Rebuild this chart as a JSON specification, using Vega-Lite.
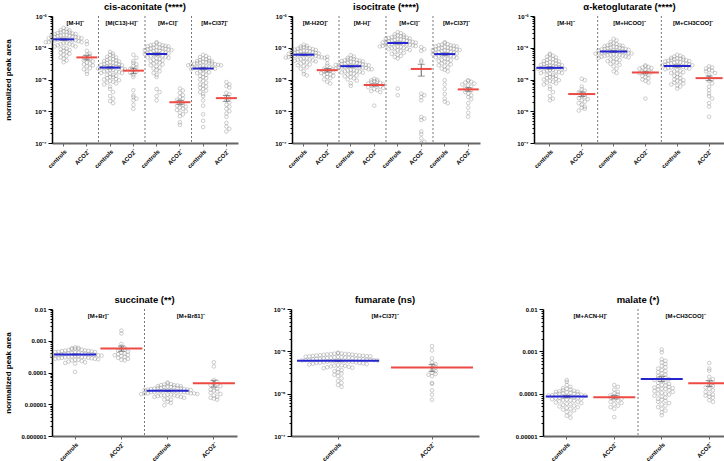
{
"$schema":"https://vega.github.io/schema/vega-lite/v6.json",
"padding":{"left":3,"top":1,"right":0,"bottom":0},
"resolve":{"scale":{"xOffset":"independent","x":"independent","y":"independent"}},
"config":{"font":"Liberation Sans","view":{"stroke":null},
 "title":{"fontSize":9.5,"fontWeight":"bold","offset":2,"color":"#000"},
 "axisY":{"labelFontSize":6,"labelFontWeight":"bold","labelColor":"#000","domainColor":"#000","domainWidth":1.5,"tickColor":"#000","labelPadding":2,"titleFontSize":8,"titleFontWeight":"bold","titleColor":"#000","grid":false},
 "axisX":{"labelAngle":-45,"labelFontSize":6,"labelFontWeight":"bold","labelColor":"#000","domainColor":"#666","domainWidth":2,"tickColor":"#666","tickSize":3,"labelPadding":2,"grid":false}},
"datasets":{
"ad":[
{"p":"cis","k":"1a","ad":"[M-H]⁻"},{"p":"cis","k":"2a","ad":"[M(C13)-H]⁻"},{"p":"cis","k":"3a","ad":"[M+Cl]⁻"},{"p":"cis","k":"4a","ad":"[M+Cl37]⁻"},
{"p":"iso","k":"1a","ad":"[M-H2O]⁻"},{"p":"iso","k":"2a","ad":"[M-H]⁻"},{"p":"iso","k":"3a","ad":"[M+Cl]⁻"},{"p":"iso","k":"4a","ad":"[M+Cl37]⁻"},
{"p":"akg","k":"1a","ad":"[M-H]⁻"},{"p":"akg","k":"2a","ad":"[M+HCOO]⁻"},{"p":"akg","k":"3a","ad":"[M+CH3COO]⁻"},
{"p":"suc","k":"1a","ad":"[M+Br]⁻"},{"p":"suc","k":"2a","ad":"[M+Br81]⁻"},
{"p":"fum","k":"1a","ad":"[M+Cl37]⁻"},
{"p":"mal","k":"1a","ad":"[M+ACN-H]⁻"},{"p":"mal","k":"2a","ad":"[M+CH3COO]⁻"}],
"raw":[
{"p":"cis","k":"1a","g":"c","v":[4.2e-4,3.9e-4,3.6e-4,3.5e-4,3.3e-4,3.2e-4,3.1e-4,3e-4,2.9e-4,2.8e-4,2.7e-4,2.7e-4,2.6e-4,2.5e-4,2.5e-4,2.4e-4,2.4e-4,2.3e-4,2.3e-4,2.2e-4,2.2e-4,2.1e-4,2.1e-4,2e-4,2e-4,1.9e-4,1.9e-4,1.9e-4,1.8e-4,1.8e-4,1.7e-4,1.7e-4,1.7e-4,1.6e-4,1.6e-4,1.5e-4,1.5e-4,1.5e-4,1.4e-4,1.4e-4,1.3e-4,1.3e-4,1.2e-4,1.2e-4,1.1e-4,1.1e-4,1e-4,9.5e-5,9e-5,8.5e-5,8e-5,7.5e-5,7e-5,6.5e-5,6e-5,5.5e-5,5e-5,4.5e-5,4e-5,3.5e-5]},
{"p":"cis","k":"1b","g":"a","v":[1.6e-4,1.3e-4,8e-5,6.5e-5,6e-5,5.5e-5,5e-5,4.6e-5,4.3e-5,4e-5,3.7e-5,3.4e-5,3.2e-5,3e-5,2.8e-5,2.6e-5,2.3e-5,2.1e-5,1.8e-5,1.5e-5]},
{"p":"cis","k":"2a","g":"c","v":[7.4e-5,6.5e-5,6e-5,5.6e-5,5.2e-5,4.9e-5,4.6e-5,4.4e-5,4.2e-5,4e-5,3.8e-5,3.7e-5,3.5e-5,3.4e-5,3.3e-5,3.2e-5,3.1e-5,3e-5,2.9e-5,2.8e-5,2.7e-5,2.6e-5,2.6e-5,2.5e-5,2.4e-5,2.4e-5,2.3e-5,2.2e-5,2.2e-5,2.1e-5,2e-5,2e-5,1.9e-5,1.8e-5,1.8e-5,1.7e-5,1.6e-5,1.6e-5,1.5e-5,1.4e-5,1.4e-5,1.3e-5,1.2e-5,1.2e-5,1.1e-5,1.05e-5,1e-5,9.5e-6,9e-6,8.5e-6,8e-6,7.5e-6,7e-6,6e-6,5e-6,4e-6,3e-6,2.5e-6,2.1e-6,1.8e-6]},
{"p":"cis","k":"2b","g":"a","v":[6e-5,4.8e-5,3.8e-5,3.3e-5,3e-5,2.7e-5,2.4e-5,2.2e-5,2e-5,1.8e-5,1.6e-5,1.4e-5,1.2e-5,4.6e-6,3.2e-6,2.8e-6,2.5e-6,2.2e-6,1.6e-6,1.2e-6]},
{"p":"cis","k":"3a","g":"c","v":[1.5e-4,1.4e-4,1.3e-4,1.25e-4,1.2e-4,1.2e-4,1.15e-4,1.1e-4,1.1e-4,1.05e-4,1e-4,1e-4,9.6e-5,9.5e-5,9.2e-5,9e-5,8.8e-5,8.5e-5,8.5e-5,8.2e-5,8e-5,7.8e-5,7.5e-5,7.3e-5,7e-5,6.8e-5,6.6e-5,6.4e-5,6.2e-5,6e-5,5.8e-5,5.6e-5,5.4e-5,5.2e-5,5e-5,4.8e-5,4.6e-5,4.4e-5,4.2e-5,4e-5,3.8e-5,3.6e-5,3.4e-5,3.2e-5,3e-5,2.8e-5,2.6e-5,2.4e-5,2.2e-5,2e-5,1.8e-5,1.6e-5,1.4e-5,1.2e-5,5e-6,4e-6,3e-6,2.2e-6]},
{"p":"cis","k":"3b","g":"a","v":[5.2e-6,4.5e-6,3.8e-6,3.2e-6,2.8e-6,2.5e-6,2.3e-6,2.1e-6,1.9e-6,1.7e-6,1.6e-6,1.5e-6,1.4e-6,1.3e-6,1.2e-6,1.1e-6,1e-6,9e-7,8e-7,7e-7,4.5e-7,3.7e-7]},
{"p":"cis","k":"4a","g":"c","v":[6e-5,5.5e-5,5.1e-5,4.8e-5,4.5e-5,4.3e-5,4.1e-5,3.9e-5,3.8e-5,3.7e-5,3.6e-5,3.5e-5,3.4e-5,3.4e-5,3.3e-5,3.2e-5,3.1e-5,3e-5,3e-5,2.9e-5,2.8e-5,2.8e-5,2.7e-5,2.6e-5,2.6e-5,2.5e-5,2.4e-5,2.4e-5,2.3e-5,2.2e-5,2.1e-5,2e-5,1.9e-5,1.8e-5,1.7e-5,1.6e-5,1.5e-5,1.4e-5,1.3e-5,1.2e-5,1.1e-5,1e-5,9e-6,8e-6,7e-6,6.5e-6,6e-6,5.5e-6,5e-6,4.5e-6,4e-6,3.5e-6,3e-6,2.2e-6,1.5e-6,8e-7,5e-7,3.2e-7]},
{"p":"cis","k":"4b","g":"a","v":[8.3e-6,7e-6,6.2e-6,5.6e-6,3.8e-6,3.4e-6,2.9e-6,2.5e-6,2.2e-6,1.9e-6,1.6e-6,1.4e-6,1.2e-6,1e-6,8.5e-7,6.7e-7,4.3e-7,3.3e-7,2.8e-7,2.3e-7]},
{"p":"iso","k":"1a","g":"c","v":[1.25e-4,1.15e-4,1.1e-4,1.05e-4,1e-4,9.8e-5,9.6e-5,9.3e-5,9e-5,8.7e-5,8.5e-5,8.4e-5,8.1e-5,7.9e-5,7.7e-5,7.6e-5,7.4e-5,7.2e-5,7e-5,6.9e-5,6.8e-5,6.6e-5,6.4e-5,6.3e-5,6.2e-5,6.1e-5,6e-5,5.8e-5,5.7e-5,5.6e-5,5.5e-5,5.4e-5,5.2e-5,5.1e-5,5e-5,4.9e-5,4.8e-5,4.7e-5,4.6e-5,4.4e-5,4.3e-5,4.2e-5,4e-5,3.9e-5,3.7e-5,3.6e-5,3.4e-5,3.2e-5,3e-5,2.8e-5,2.6e-5,2.4e-5,2.2e-5,1.8e-5,1.5e-5,1.35e-5]},
{"p":"iso","k":"1b","g":"a","v":[5.2e-5,4.2e-5,3.2e-5,2.7e-5,2.4e-5,2.2e-5,2e-5,1.9e-5,1.8e-5,1.7e-5,1.6e-5,1.5e-5,1.45e-5,1.4e-5,1.3e-5,1.2e-5,1.1e-5,1e-5,8.5e-6,7.5e-6]},
{"p":"iso","k":"2a","g":"c","v":[5.8e-5,5.3e-5,4.8e-5,4.6e-5,4.4e-5,4.2e-5,4.1e-5,4e-5,3.9e-5,3.8e-5,3.7e-5,3.6e-5,3.5e-5,3.4e-5,3.3e-5,3.2e-5,3.2e-5,3.1e-5,3e-5,2.9e-5,2.9e-5,2.9e-5,2.8e-5,2.7e-5,2.6e-5,2.6e-5,2.6e-5,2.5e-5,2.4e-5,2.4e-5,2.35e-5,2.3e-5,2.3e-5,2.2e-5,2.1e-5,2.1e-5,2.1e-5,2e-5,1.97e-5,1.93e-5,1.85e-5,1.81e-5,1.76e-5,1.68e-5,1.64e-5,1.55e-5,1.51e-5,1.43e-5,1.34e-5,1.26e-5,1.18e-5,1.09e-5,1.01e-5,9.2e-6,7.6e-6,6.3e-6]},
{"p":"iso","k":"2b","g":"a","v":[1.05e-5,9.8e-6,9.4e-6,9e-6,8.6e-6,8.2e-6,7.8e-6,7.5e-6,7.2e-6,6.9e-6,6.6e-6,6.3e-6,6e-6,5.7e-6,5.4e-6,5e-6,4.6e-6,4.3e-6,4e-6,1.5e-6]},
{"p":"iso","k":"3a","g":"c","v":[3.1e-4,2.88e-4,2.65e-4,2.53e-4,2.42e-4,2.3e-4,2.25e-4,2.21e-4,2.14e-4,2.07e-4,2e-4,1.96e-4,1.93e-4,1.86e-4,1.82e-4,1.77e-4,1.75e-4,1.7e-4,1.66e-4,1.61e-4,1.59e-4,1.56e-4,1.52e-4,1.47e-4,1.45e-4,1.43e-4,1.4e-4,1.38e-4,1.33e-4,1.31e-4,1.29e-4,1.27e-4,1.24e-4,1.2e-4,1.17e-4,1.15e-4,1.13e-4,1.1e-4,1.08e-4,1.06e-4,1.01e-4,9.9e-5,9.7e-5,9.2e-5,9e-5,8.5e-5,8.3e-5,7.8e-5,7.4e-5,6.9e-5,6.4e-5,6e-5,5.5e-5,5.1e-5,4.6e-5,5.2e-6,3.2e-6]},
{"p":"iso","k":"3b","g":"a","v":[1.05e-4,9e-5,8e-5,4e-5,3.6e-5,3.6e-6,3.2e-6,2.8e-6,2.2e-6,6.6e-7,5.9e-7,5.3e-7,2.3e-7,1.9e-7,1.4e-7,1.1e-7,1e-7]},
{"p":"iso","k":"4a","g":"c","v":[1.5e-4,1.4e-4,1.3e-4,1.25e-4,1.2e-4,1.2e-4,1.15e-4,1.1e-4,1.1e-4,1.05e-4,1e-4,1e-4,9.6e-5,9.5e-5,9.2e-5,9e-5,8.8e-5,8.5e-5,8.5e-5,8.2e-5,8e-5,7.8e-5,7.5e-5,7.3e-5,7e-5,6.8e-5,6.6e-5,6.4e-5,6.2e-5,6e-5,5.8e-5,5.6e-5,5.4e-5,5.2e-5,5e-5,4.8e-5,4.6e-5,4.4e-5,4.2e-5,4e-5,3.8e-5,3.6e-5,3.4e-5,3.2e-5,3e-5,2.8e-5,2.6e-5,2.4e-5,2.2e-5,2e-5,1.8e-5,9.5e-6,7e-6,5e-6,3.5e-6,2.5e-6,2e-6,1.8e-6]},
{"p":"iso","k":"4b","g":"a","v":[9.5e-6,9e-6,8.5e-6,8e-6,7.5e-6,7e-6,6.5e-6,6e-6,5.5e-6,5e-6,4.5e-6,4e-6,3.6e-6,3.2e-6,2.8e-6,2.4e-6,1.8e-6,1.3e-6,9e-7,6.7e-7]},
{"p":"akg","k":"1a","g":"c","v":[6.5e-5,6e-5,5.6e-5,5.2e-5,4.9e-5,4.6e-5,4.4e-5,4.2e-5,4e-5,3.8e-5,3.7e-5,3.5e-5,3.4e-5,3.3e-5,3.2e-5,3.1e-5,3e-5,2.9e-5,2.8e-5,2.7e-5,2.6e-5,2.6e-5,2.5e-5,2.4e-5,2.4e-5,2.3e-5,2.2e-5,2.2e-5,2.1e-5,2e-5,2e-5,1.9e-5,1.8e-5,1.8e-5,1.7e-5,1.6e-5,1.6e-5,1.5e-5,1.4e-5,1.4e-5,1.3e-5,1.2e-5,1.2e-5,1.1e-5,1.05e-5,1e-5,9.5e-6,9e-6,8.5e-6,8e-6,7.5e-6,7e-6,6e-6,5e-6,4e-6,3e-6,2.5e-6,2.2e-6]},
{"p":"akg","k":"1b","g":"a","v":[1.05e-5,9.5e-6,6e-6,5e-6,4.4e-6,4e-6,3.6e-6,3.3e-6,3e-6,2.8e-6,2.6e-6,2.4e-6,2.2e-6,2e-6,1.8e-6,1.6e-6,1.4e-6,1.3e-6,1.2e-6,1.05e-6]},
{"p":"akg","k":"2a","g":"c","v":[1.9e-4,1.7e-4,1.5e-4,1.38e-4,1.32e-4,1.26e-4,1.2e-4,1.18e-4,1.15e-4,1.12e-4,1.08e-4,1.04e-4,1.02e-4,1.01e-4,9.7e-5,9.5e-5,9.2e-5,9.1e-5,8.9e-5,8.6e-5,8.4e-5,8.3e-5,8.2e-5,7.9e-5,7.7e-5,7.6e-5,7.4e-5,7.3e-5,7.2e-5,7e-5,6.8e-5,6.7e-5,6.6e-5,6.5e-5,6.2e-5,6.1e-5,6e-5,5.9e-5,5.8e-5,5.6e-5,5.5e-5,5.3e-5,5.2e-5,5e-5,4.8e-5,4.7e-5,4.4e-5,4.3e-5,4.1e-5,3.8e-5,3.6e-5,3.4e-5,3.1e-5,2.9e-5,2.6e-5,2.2e-5,1.8e-5,1.6e-5]},
{"p":"akg","k":"2b","g":"a","v":[2.8e-5,2.6e-5,2.5e-5,2.4e-5,2.3e-5,2.2e-5,2e-5,1.9e-5,1.8e-5,1.7e-5,1.6e-5,1.5e-5,1.4e-5,1.3e-5,1.2e-5,1.1e-5,1e-5,9e-6,8e-6,2.5e-6]},
{"p":"akg","k":"3a","g":"c","v":[6e-5,5.6e-5,5.3e-5,5e-5,4.8e-5,4.6e-5,4.5e-5,4.4e-5,4.3e-5,4.2e-5,4e-5,3.9e-5,3.8e-5,3.7e-5,3.6e-5,3.5e-5,3.4e-5,3.3e-5,3.2e-5,3.2e-5,3.1e-5,3e-5,2.9e-5,2.8e-5,2.8e-5,2.7e-5,2.6e-5,2.6e-5,2.5e-5,2.4e-5,2.3e-5,2.3e-5,2.2e-5,2.1e-5,2e-5,1.9e-5,1.8e-5,1.7e-5,1.6e-5,1.5e-5,1.4e-5,1.3e-5,1.2e-5,1.1e-5,1e-5,9.5e-6,9e-6,8.5e-6,8e-6,7.5e-6,7e-6,6.5e-6,6e-6,5.2e-6]},
{"p":"akg","k":"3b","g":"a","v":[2.6e-5,2.4e-5,2.2e-5,2e-5,1.9e-5,1.8e-5,1.6e-5,1.4e-5,1.2e-5,1e-5,9e-6,7.5e-6,6e-6,4.6e-6,3.6e-6,3e-6,2.5e-6,1.8e-6,1.4e-6,6.7e-7]},
{"p":"suc","k":"1a","g":"c","v":[6.2e-4,6e-4,5.8e-4,5.6e-4,5.5e-4,5.4e-4,5.2e-4,5.1e-4,5e-4,4.9e-4,4.8e-4,4.7e-4,4.6e-4,4.5e-4,4.4e-4,4.4e-4,4.3e-4,4.2e-4,4.1e-4,4e-4,4e-4,3.9e-4,3.9e-4,3.8e-4,3.7e-4,3.7e-4,3.6e-4,3.6e-4,3.5e-4,3.5e-4,3.4e-4,3.4e-4,3.3e-4,3.3e-4,3.2e-4,3.1e-4,3.1e-4,3e-4,3e-4,2.9e-4,2.9e-4,2.8e-4,2.8e-4,2.7e-4,2.7e-4,2.6e-4,2.5e-4,2.5e-4,2.4e-4,2.3e-4,2.2e-4,2.1e-4,2e-4,1.9e-4,1.05e-4]},
{"p":"suc","k":"1b","g":"a","v":[2.1e-3,1.7e-3,8e-4,6.5e-4,6e-4,5.6e-4,5.2e-4,4.8e-4,4.5e-4,4.2e-4,4e-4,3.8e-4,3.6e-4,3.5e-4,3.3e-4,3.1e-4,2.9e-4,2.7e-4,2.5e-4,2.4e-4]},
{"p":"suc","k":"2a","g":"c","v":[4.9e-5,4.5e-5,4.3e-5,4.2e-5,4e-5,4e-5,3.9e-5,3.7e-5,3.7e-5,3.6e-5,3.5e-5,3.5e-5,3.4e-5,3.3e-5,3.2e-5,3.2e-5,3.2e-5,3.1e-5,3e-5,3e-5,2.9e-5,2.9e-5,2.8e-5,2.8e-5,2.7e-5,2.7e-5,2.7e-5,2.6e-5,2.6e-5,2.5e-5,2.5e-5,2.4e-5,2.4e-5,2.4e-5,2.4e-5,2.3e-5,2.2e-5,2.2e-5,2.2e-5,2.2e-5,2.1e-5,2.1e-5,2e-5,2e-5,1.9e-5,1.9e-5,1.9e-5,1.8e-5,1.8e-5,1.7e-5,1.7e-5,1.6e-5,1.5e-5,1.4e-5,1.4e-5,1.2e-5,1.1e-5,9.3e-6]},
{"p":"suc","k":"2b","g":"a","v":[2.1e-4,1.55e-4,5.8e-5,5.2e-5,4.7e-5,4.3e-5,4e-5,3.7e-5,3.4e-5,3.1e-5,2.9e-5,2.7e-5,2.5e-5,2.3e-5,2.1e-5,1.9e-5,1.7e-5,1.6e-5,1.5e-5,1.4e-5]},
{"p":"fum","k":"1a","g":"c","v":[9.3e-6,9e-6,8.8e-6,8.6e-6,8.4e-6,8.2e-6,8e-6,7.8e-6,7.6e-6,7.5e-6,7.3e-6,7.2e-6,7e-6,6.9e-6,6.8e-6,6.7e-6,6.6e-6,6.5e-6,6.4e-6,6.3e-6,6.2e-6,6.1e-6,6e-6,5.9e-6,5.8e-6,5.7e-6,5.6e-6,5.5e-6,5.4e-6,5.3e-6,5.2e-6,5.1e-6,5e-6,4.9e-6,4.8e-6,4.7e-6,4.6e-6,4.5e-6,4.4e-6,4.3e-6,4.2e-6,4.1e-6,4e-6,3.8e-6,3.6e-6,3.4e-6,3.2e-6,3e-6,2.8e-6,2.6e-6,2.3e-6,2e-6,1.8e-6,1.6e-6,1.45e-6,8.9e-6,8.7e-6,8.5e-6,8.3e-6,8.1e-6,7.9e-6,7.7e-6,7.4e-6,7.1e-6,6.9e-6,6.7e-6,6.5e-6,6.3e-6,6.1e-6,5.9e-6,5.7e-6,5.5e-6,8.6e-6,8e-6,7.6e-6,7e-6,6.6e-6,6.2e-6,5.8e-6,5.3e-6]},
{"p":"fum","k":"1b","g":"a","v":[1.33e-5,1.05e-5,6.8e-6,5.5e-6,5e-6,4.6e-6,4.2e-6,3.6e-6,3.4e-6,3.1e-6,2.9e-6,2.8e-6,2.6e-6,1.8e-6,1.7e-6,1.2e-6,9.5e-7,7.2e-7]},
{"p":"mal","k":"1a","g":"c","v":[2.1e-4,1.9e-4,1.6e-4,1.45e-4,1.35e-4,1.3e-4,1.25e-4,1.2e-4,1.17e-4,1.14e-4,1.11e-4,1.1e-4,1.08e-4,1.05e-4,1.02e-4,1e-4,1e-4,9.8e-5,9.6e-5,9.4e-5,9.2e-5,9e-5,9e-5,8.8e-5,8.6e-5,8.4e-5,8.2e-5,8e-5,8e-5,7.8e-5,7.6e-5,7.4e-5,7.2e-5,7e-5,7e-5,6.8e-5,6.6e-5,6.4e-5,6.2e-5,6e-5,5.8e-5,5.6e-5,5.4e-5,5.2e-5,5e-5,4.8e-5,4.6e-5,4.4e-5,4.2e-5,4e-5,3.7e-5,3.4e-5,3e-5,2.7e-5]},
{"p":"mal","k":"1b","g":"a","v":[1.6e-4,1.45e-4,1.25e-4,1.1e-4,1.02e-4,9.6e-5,9.2e-5,8.8e-5,8.4e-5,8e-5,7.6e-5,7.2e-5,6.8e-5,6.4e-5,6e-5,5.6e-5,5.2e-5,4.8e-5,4.4e-5,2.8e-5]},
{"p":"mal","k":"2a","g":"c","v":[1.1e-3,9.5e-4,6.5e-4,6e-4,5.5e-4,5e-4,4.5e-4,4.2e-4,3.9e-4,3.6e-4,3.4e-4,3.2e-4,3e-4,2.8e-4,2.6e-4,2.5e-4,2.4e-4,2.3e-4,2.2e-4,2.1e-4,2e-4,1.9e-4,1.8e-4,1.7e-4,1.6e-4,1.55e-4,1.5e-4,1.45e-4,1.4e-4,1.35e-4,1.3e-4,1.3e-4,1.25e-4,1.2e-4,1.15e-4,1.1e-4,1.05e-4,1e-4,1e-4,9.5e-5,9e-5,8.5e-5,8e-5,7.6e-5,7.2e-5,6.8e-5,6.4e-5,6e-5,5.6e-5,5.2e-5,4.8e-5,4.4e-5,4e-5,3.6e-5,3.1e-5]},
{"p":"mal","k":"2b","g":"a","v":[5.3e-4,3.9e-4,3.5e-4,2.5e-4,2.2e-4,2e-4,1.8e-4,1.6e-4,1.5e-4,1.4e-4,1.3e-4,1.2e-4,1.1e-4,1e-4,9.5e-5,9e-5,8.5e-5,8e-5,7e-5,6.4e-5]}
]},
"vconcat":[
{"resolve":{"scale":{"xOffset":"independent"}},"hconcat":[
{"width":186,"height":127,"title":"cis-aconitate (****)","layer":[
 {"data":{"name":"raw"},"transform":[{"filter":"datum.p=='cis'"},{"flatten":["v"]},{"calculate":"floor(log(datum.v)/LN10/0.12)","as":"lb"},{"window":[{"op":"row_number","as":"r"}],"groupby":["k","lb"],"sort":[{"field":"v","order":"descending"}]},{"calculate":"(datum.r%2==0 ? 1 : -1)*floor(datum.r/2)","as":"off"}],
  "mark":{"type":"point","shape":"circle","filled":false,"size":13,"color":"#8c8c8c","strokeWidth":0.6},
  "encoding":{"x":{"field":"k","type":"nominal","title":null,"scale":{"type":"band","paddingInner":0,"paddingOuter":0},"axis":{"labelExpr":"substring(datum.value,1,2)=='a' ? 'controls' : 'ACO2⁻'"}},
   "xOffset":{"field":"off","type":"quantitative","scale":{"domain":[-3.9,3.9],"range":[0,23.25],"nice":false,"zero":false}},
   "y":{"field":"v","type":"quantitative","title":"normalized peak area","scale":{"type":"log","domain":[1e-7,1e-3]},"axis":{"values":[1e-7,2e-7,3e-7,4e-7,5e-7,6e-7,7e-7,8e-7,9e-7,1e-6,2e-6,3e-6,4e-6,5e-6,6e-6,7e-6,8e-6,9e-6,1e-5,2e-5,3e-5,4e-5,5e-5,6e-5,7e-5,8e-5,9e-5,1e-4,2e-4,3e-4,4e-4,5e-4,6e-4,7e-4,8e-4,9e-4,1e-3],"labelExpr":"abs(log(datum.value)/LN10-round(log(datum.value)/LN10))<0.001 ? '10⁻'+['⁰','¹','²','³','⁴','⁵','⁶','⁷','⁸','⁹'][-round(log(datum.value)/LN10)] : ''","tickSize":{"condition":{"test":"abs(log(datum.value)/LN10-round(log(datum.value)/LN10))<0.001","value":4},"value":2},"titleX":-40}}}},
 {"data":{"name":"raw"},"transform":[{"filter":"datum.p=='cis'"},{"flatten":["v"]}],"mark":{"type":"errorbar","extent":"stderr","ticks":{"size":7},"color":"#666"},"encoding":{"x":{"field":"k","type":"nominal","title":null},"y":{"field":"v","type":"quantitative","title":"normalized peak area"}}},
 {"data":{"name":"raw"},"transform":[{"filter":"datum.p=='cis'"},{"flatten":["v"]}],"mark":{"type":"tick","thickness":2,"size":21},"encoding":{"x":{"field":"k","type":"nominal","title":null},"y":{"field":"v","aggregate":"mean","type":"quantitative","title":"normalized peak area"},"color":{"field":"g","type":"nominal","scale":{"domain":["c","a"],"range":["#2424d0","#ee4a44"]},"legend":null}}},
 {"data":{"name":"ad"},"transform":[{"filter":"datum.p=='cis' && datum.k!='1a'"}],"mark":{"type":"rule","strokeDash":[2,2],"color":"#555","strokeWidth":0.8},"encoding":{"x":{"field":"k","type":"nominal","bandPosition":0,"title":null}}},
 {"data":{"name":"ad"},"transform":[{"filter":"datum.p=='cis'"}],"mark":{"type":"text","baseline":"top","dy":4,"fontSize":6,"fontWeight":"bold","color":"#000"},"encoding":{"x":{"field":"k","type":"nominal","bandPosition":1,"title":null},"y":{"datum":0.001},"text":{"field":"ad"}}}
]},
{"width":188,"height":127,"title":"isocitrate (****)","layer":[
 {"data":{"name":"raw"},"transform":[{"filter":"datum.p=='iso'"},{"flatten":["v"]},{"calculate":"floor(log(datum.v)/LN10/0.12)","as":"lb"},{"window":[{"op":"row_number","as":"r"}],"groupby":["k","lb"],"sort":[{"field":"v","order":"descending"}]},{"calculate":"(datum.r%2==0 ? 1 : -1)*floor(datum.r/2)","as":"off"}],
  "mark":{"type":"point","shape":"circle","filled":false,"size":13,"color":"#8c8c8c","strokeWidth":0.6},
  "encoding":{"x":{"field":"k","type":"nominal","title":null,"scale":{"type":"band","paddingInner":0,"paddingOuter":0},"axis":{"labelExpr":"substring(datum.value,1,2)=='a' ? 'controls' : 'ACO2⁻'"}},
   "xOffset":{"field":"off","type":"quantitative","scale":{"domain":[-3.92,3.92],"range":[0,23.5],"nice":false,"zero":false}},
   "y":{"field":"v","type":"quantitative","title":null,"scale":{"type":"log","domain":[1e-7,1e-3]},"axis":{"values":[1e-7,2e-7,3e-7,4e-7,5e-7,6e-7,7e-7,8e-7,9e-7,1e-6,2e-6,3e-6,4e-6,5e-6,6e-6,7e-6,8e-6,9e-6,1e-5,2e-5,3e-5,4e-5,5e-5,6e-5,7e-5,8e-5,9e-5,1e-4,2e-4,3e-4,4e-4,5e-4,6e-4,7e-4,8e-4,9e-4,1e-3],"labelExpr":"abs(log(datum.value)/LN10-round(log(datum.value)/LN10))<0.001 ? '10⁻'+['⁰','¹','²','³','⁴','⁵','⁶','⁷','⁸','⁹'][-round(log(datum.value)/LN10)] : ''","tickSize":{"condition":{"test":"abs(log(datum.value)/LN10-round(log(datum.value)/LN10))<0.001","value":4},"value":2}}}}},
 {"data":{"name":"raw"},"transform":[{"filter":"datum.p=='iso'"},{"flatten":["v"]}],"mark":{"type":"errorbar","extent":"stderr","ticks":{"size":7},"color":"#666"},"encoding":{"x":{"field":"k","type":"nominal","title":null},"y":{"field":"v","type":"quantitative","title":null}}},
 {"data":{"name":"raw"},"transform":[{"filter":"datum.p=='iso'"},{"flatten":["v"]}],"mark":{"type":"tick","thickness":2,"size":21},"encoding":{"x":{"field":"k","type":"nominal","title":null},"y":{"field":"v","aggregate":"mean","type":"quantitative","title":null},"color":{"field":"g","type":"nominal","scale":{"domain":["c","a"],"range":["#2424d0","#ee4a44"]},"legend":null}}},
 {"data":{"name":"ad"},"transform":[{"filter":"datum.p=='iso' && datum.k!='1a'"}],"mark":{"type":"rule","strokeDash":[2,2],"color":"#555","strokeWidth":0.8},"encoding":{"x":{"field":"k","type":"nominal","bandPosition":0,"title":null}}},
 {"data":{"name":"ad"},"transform":[{"filter":"datum.p=='iso'"}],"mark":{"type":"text","baseline":"top","dy":4,"fontSize":6,"fontWeight":"bold","color":"#000"},"encoding":{"x":{"field":"k","type":"nominal","bandPosition":1,"title":null},"y":{"datum":0.001},"text":{"field":"ad"}}}
]},
{"width":191,"height":127,"title":"α-ketoglutarate (****)","layer":[
 {"data":{"name":"raw"},"transform":[{"filter":"datum.p=='akg'"},{"flatten":["v"]},{"calculate":"floor(log(datum.v)/LN10/0.12)","as":"lb"},{"window":[{"op":"row_number","as":"r"}],"groupby":["k","lb"],"sort":[{"field":"v","order":"descending"}]},{"calculate":"(datum.r%2==0 ? 1 : -1)*floor(datum.r/2)","as":"off"}],
  "mark":{"type":"point","shape":"circle","filled":false,"size":13,"color":"#8c8c8c","strokeWidth":0.6},
  "encoding":{"x":{"field":"k","type":"nominal","title":null,"scale":{"type":"band","paddingInner":0,"paddingOuter":0},"axis":{"labelExpr":"substring(datum.value,1,2)=='a' ? 'controls' : 'ACO2⁻'"}},
   "xOffset":{"field":"off","type":"quantitative","scale":{"domain":[-5.3,5.3],"range":[0,31.83],"nice":false,"zero":false}},
   "y":{"field":"v","type":"quantitative","title":null,"scale":{"type":"log","domain":[1e-7,1e-3]},"axis":{"values":[1e-7,2e-7,3e-7,4e-7,5e-7,6e-7,7e-7,8e-7,9e-7,1e-6,2e-6,3e-6,4e-6,5e-6,6e-6,7e-6,8e-6,9e-6,1e-5,2e-5,3e-5,4e-5,5e-5,6e-5,7e-5,8e-5,9e-5,1e-4,2e-4,3e-4,4e-4,5e-4,6e-4,7e-4,8e-4,9e-4,1e-3],"labelExpr":"abs(log(datum.value)/LN10-round(log(datum.value)/LN10))<0.001 ? '10⁻'+['⁰','¹','²','³','⁴','⁵','⁶','⁷','⁸','⁹'][-round(log(datum.value)/LN10)] : ''","tickSize":{"condition":{"test":"abs(log(datum.value)/LN10-round(log(datum.value)/LN10))<0.001","value":4},"value":2}}}}},
 {"data":{"name":"raw"},"transform":[{"filter":"datum.p=='akg'"},{"flatten":["v"]}],"mark":{"type":"errorbar","extent":"stderr","ticks":{"size":7},"color":"#666"},"encoding":{"x":{"field":"k","type":"nominal","title":null},"y":{"field":"v","type":"quantitative","title":null}}},
 {"data":{"name":"raw"},"transform":[{"filter":"datum.p=='akg'"},{"flatten":["v"]}],"mark":{"type":"tick","thickness":2,"size":27},"encoding":{"x":{"field":"k","type":"nominal","title":null},"y":{"field":"v","aggregate":"mean","type":"quantitative","title":null},"color":{"field":"g","type":"nominal","scale":{"domain":["c","a"],"range":["#2424d0","#ee4a44"]},"legend":null}}},
 {"data":{"name":"ad"},"transform":[{"filter":"datum.p=='akg' && datum.k!='1a'"}],"mark":{"type":"rule","strokeDash":[2,2],"color":"#555","strokeWidth":0.8},"encoding":{"x":{"field":"k","type":"nominal","bandPosition":0,"title":null}}},
 {"data":{"name":"ad"},"transform":[{"filter":"datum.p=='akg'"}],"mark":{"type":"text","baseline":"top","dy":4,"fontSize":6,"fontWeight":"bold","color":"#000"},"encoding":{"x":{"field":"k","type":"nominal","bandPosition":1,"title":null},"y":{"datum":0.001},"text":{"field":"ad"}}}
]}
],"spacing":36},
{"resolve":{"scale":{"xOffset":"independent"}},"hconcat":[
{"width":185,"height":127,"title":"succinate (**)","layer":[
 {"data":{"name":"raw"},"transform":[{"filter":"datum.p=='suc'"},{"flatten":["v"]},{"calculate":"floor(log(datum.v)/LN10/0.12)","as":"lb"},{"window":[{"op":"row_number","as":"r"}],"groupby":["k","lb"],"sort":[{"field":"v","order":"descending"}]},{"calculate":"(datum.r%2==0 ? 1 : -1)*floor(datum.r/2)","as":"off"}],
  "mark":{"type":"point","shape":"circle","filled":false,"size":13,"color":"#8c8c8c","strokeWidth":0.6},
  "encoding":{"x":{"field":"k","type":"nominal","title":null,"scale":{"type":"band","paddingInner":0,"paddingOuter":0},"axis":{"labelExpr":"substring(datum.value,1,2)=='a' ? 'controls' : 'ACO2⁻'"}},
   "xOffset":{"field":"off","type":"quantitative","scale":{"domain":[-7,7],"range":[0,46.25],"nice":false,"zero":false}},
   "y":{"field":"v","type":"quantitative","title":"normalized peak area","scale":{"type":"log","domain":[1e-6,1e-2]},"axis":{"values":[1e-6,2e-6,3e-6,4e-6,5e-6,6e-6,7e-6,8e-6,9e-6,1e-5,2e-5,3e-5,4e-5,5e-5,6e-5,7e-5,8e-5,9e-5,1e-4,2e-4,3e-4,4e-4,5e-4,6e-4,7e-4,8e-4,9e-4,1e-3,2e-3,3e-3,4e-3,5e-3,6e-3,7e-3,8e-3,9e-3,1e-2],"labelExpr":"abs(log(datum.value)/LN10-round(log(datum.value)/LN10))<0.001 ? ['1','0.1','0.01','0.001','0.0001','0.00001','0.000001'][-round(log(datum.value)/LN10)] : ''","tickSize":{"condition":{"test":"abs(log(datum.value)/LN10-round(log(datum.value)/LN10))<0.001","value":4},"value":2},"titleX":-40}}}},
 {"data":{"name":"raw"},"transform":[{"filter":"datum.p=='suc'"},{"flatten":["v"]}],"mark":{"type":"errorbar","extent":"stderr","ticks":{"size":7},"color":"#666"},"encoding":{"x":{"field":"k","type":"nominal","title":null},"y":{"field":"v","type":"quantitative","title":"normalized peak area"}}},
 {"data":{"name":"raw"},"transform":[{"filter":"datum.p=='suc'"},{"flatten":["v"]}],"mark":{"type":"tick","thickness":2,"size":42},"encoding":{"x":{"field":"k","type":"nominal","title":null},"y":{"field":"v","aggregate":"mean","type":"quantitative","title":"normalized peak area"},"color":{"field":"g","type":"nominal","scale":{"domain":["c","a"],"range":["#2424d0","#ee4a44"]},"legend":null}}},
 {"data":{"name":"ad"},"transform":[{"filter":"datum.p=='suc' && datum.k!='1a'"}],"mark":{"type":"rule","strokeDash":[2,2],"color":"#555","strokeWidth":0.8},"encoding":{"x":{"field":"k","type":"nominal","bandPosition":0,"title":null}}},
 {"data":{"name":"ad"},"transform":[{"filter":"datum.p=='suc'"}],"mark":{"type":"text","baseline":"top","dy":4,"fontSize":6,"fontWeight":"bold","color":"#000"},"encoding":{"x":{"field":"k","type":"nominal","bandPosition":1,"title":null},"y":{"datum":0.01},"text":{"field":"ad"}}}
]},
{"width":188,"height":127,"title":"fumarate (ns)","layer":[
 {"data":{"name":"raw"},"transform":[{"filter":"datum.p=='fum'"},{"flatten":["v"]},{"calculate":"floor(log(datum.v)/LN10/0.09)","as":"lb"},{"window":[{"op":"row_number","as":"r"}],"groupby":["k","lb"],"sort":[{"field":"v","order":"descending"}]},{"calculate":"(datum.r%2==0 ? 1 : -1)*floor(datum.r/2)","as":"off"}],
  "mark":{"type":"point","shape":"circle","filled":false,"size":13,"color":"#8c8c8c","strokeWidth":0.6},
  "encoding":{"x":{"field":"k","type":"nominal","title":null,"scale":{"type":"band","paddingInner":0,"paddingOuter":0},"axis":{"labelExpr":"substring(datum.value,1,2)=='a' ? 'controls' : 'ACO2⁻'"}},
   "xOffset":{"field":"off","type":"quantitative","scale":{"domain":[-13.1,13.1],"range":[0,94],"nice":false,"zero":false}},
   "y":{"field":"v","type":"quantitative","title":null,"scale":{"type":"log","domain":[1e-7,1e-4]},"axis":{"values":[1e-7,2e-7,3e-7,4e-7,5e-7,6e-7,7e-7,8e-7,9e-7,1e-6,2e-6,3e-6,4e-6,5e-6,6e-6,7e-6,8e-6,9e-6,1e-5,2e-5,3e-5,4e-5,5e-5,6e-5,7e-5,8e-5,9e-5,1e-4],"labelExpr":"abs(log(datum.value)/LN10-round(log(datum.value)/LN10))<0.001 ? '10⁻'+['⁰','¹','²','³','⁴','⁵','⁶','⁷','⁸','⁹'][-round(log(datum.value)/LN10)] : ''","tickSize":{"condition":{"test":"abs(log(datum.value)/LN10-round(log(datum.value)/LN10))<0.001","value":4},"value":2}}}}},
 {"data":{"name":"raw"},"transform":[{"filter":"datum.p=='fum'"},{"flatten":["v"]}],"mark":{"type":"errorbar","extent":"stderr","ticks":{"size":7},"color":"#666"},"encoding":{"x":{"field":"k","type":"nominal","title":null},"y":{"field":"v","type":"quantitative","title":null}}},
 {"data":{"name":"raw"},"transform":[{"filter":"datum.p=='fum'"},{"flatten":["v"]}],"mark":{"type":"tick","thickness":2,"size":82},"encoding":{"x":{"field":"k","type":"nominal","title":null},"y":{"field":"v","aggregate":"mean","type":"quantitative","title":null},"color":{"field":"g","type":"nominal","scale":{"domain":["c","a"],"range":["#2424d0","#ee4a44"]},"legend":null}}},
 {"data":{"name":"ad"},"transform":[{"filter":"datum.p=='fum'"}],"mark":{"type":"text","baseline":"top","dy":4,"fontSize":6,"fontWeight":"bold","color":"#000"},"encoding":{"x":{"field":"k","type":"nominal","bandPosition":1,"title":null},"y":{"datum":0.0001},"text":{"field":"ad"}}}
]},
{"width":190,"height":127,"title":"malate (*)","layer":[
 {"data":{"name":"raw"},"transform":[{"filter":"datum.p=='mal'"},{"flatten":["v"]},{"calculate":"floor(log(datum.v)/LN10/0.09)","as":"lb"},{"window":[{"op":"row_number","as":"r"}],"groupby":["k","lb"],"sort":[{"field":"v","order":"descending"}]},{"calculate":"(datum.r%2==0 ? 1 : -1)*floor(datum.r/2)","as":"off"}],
  "mark":{"type":"point","shape":"circle","filled":false,"size":13,"color":"#8c8c8c","strokeWidth":0.6},
  "encoding":{"x":{"field":"k","type":"nominal","title":null,"scale":{"type":"band","paddingInner":0,"paddingOuter":0},"axis":{"labelExpr":"substring(datum.value,1,2)=='a' ? 'controls' : 'ACO2⁻'"}},
   "xOffset":{"field":"off","type":"quantitative","scale":{"domain":[-6.5,6.5],"range":[0,47.5],"nice":false,"zero":false}},
   "y":{"field":"v","type":"quantitative","title":null,"scale":{"type":"log","domain":[1e-5,1e-2]},"axis":{"values":[1e-5,2e-5,3e-5,4e-5,5e-5,6e-5,7e-5,8e-5,9e-5,1e-4,2e-4,3e-4,4e-4,5e-4,6e-4,7e-4,8e-4,9e-4,1e-3,2e-3,3e-3,4e-3,5e-3,6e-3,7e-3,8e-3,9e-3,1e-2],"labelExpr":"abs(log(datum.value)/LN10-round(log(datum.value)/LN10))<0.001 ? ['1','0.1','0.01','0.001','0.0001','0.00001','0.000001'][-round(log(datum.value)/LN10)] : ''","tickSize":{"condition":{"test":"abs(log(datum.value)/LN10-round(log(datum.value)/LN10))<0.001","value":4},"value":2}}}}},
 {"data":{"name":"raw"},"transform":[{"filter":"datum.p=='mal'"},{"flatten":["v"]}],"mark":{"type":"errorbar","extent":"stderr","ticks":{"size":7},"color":"#666"},"encoding":{"x":{"field":"k","type":"nominal","title":null},"y":{"field":"v","type":"quantitative","title":null}}},
 {"data":{"name":"raw"},"transform":[{"filter":"datum.p=='mal'"},{"flatten":["v"]}],"mark":{"type":"tick","thickness":2,"size":42},"encoding":{"x":{"field":"k","type":"nominal","title":null},"y":{"field":"v","aggregate":"mean","type":"quantitative","title":null},"color":{"field":"g","type":"nominal","scale":{"domain":["c","a"],"range":["#2424d0","#ee4a44"]},"legend":null}}},
 {"data":{"name":"ad"},"transform":[{"filter":"datum.p=='mal' && datum.k!='1a'"}],"mark":{"type":"rule","strokeDash":[2,2],"color":"#555","strokeWidth":0.8},"encoding":{"x":{"field":"k","type":"nominal","bandPosition":0,"title":null}}},
 {"data":{"name":"ad"},"transform":[{"filter":"datum.p=='mal'"}],"mark":{"type":"text","baseline":"top","dy":4,"fontSize":6,"fontWeight":"bold","color":"#000"},"encoding":{"x":{"field":"k","type":"nominal","bandPosition":1,"title":null},"y":{"datum":0.01},"text":{"field":"ad"}}}
]}
],"spacing":36}
],"spacing":125}
